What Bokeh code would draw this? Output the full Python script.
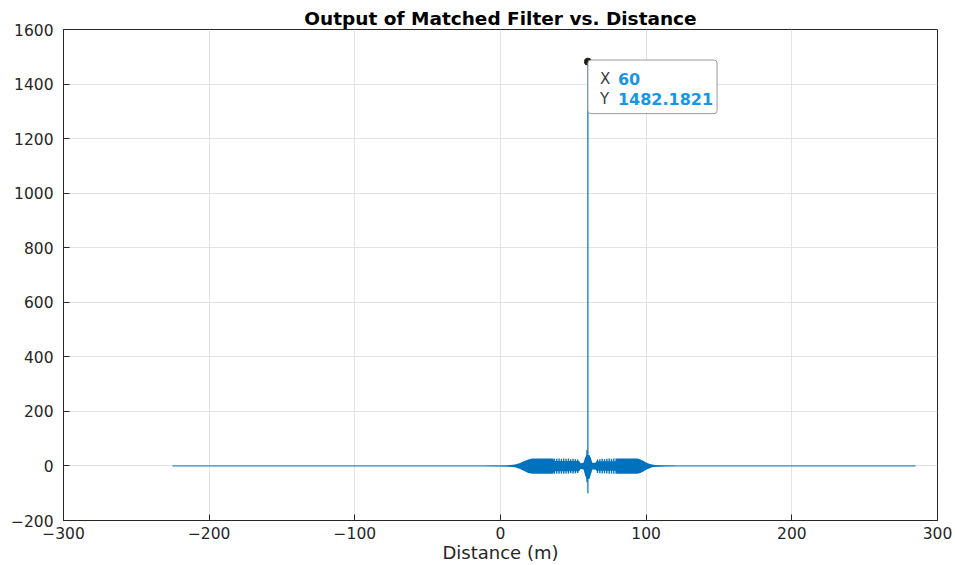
from bokeh.plotting import figure
from bokeh.models import FixedTicker, Label, ColumnDataSource
from bokeh.embed import file_html
from bokeh.resources import INLINE

# ---------------- data ----------------
signal_extent = [-225, 285]          # x range covered by the filter output (m)
baseline_level = [0, 0]

# envelope of the dense oscillation (m, amplitude)
env_x = [-10, 0, 5, 10, 13, 16, 19, 22, 25, 36, 37, 54, 55, 57, 58, 59, 61, 62, 63, 65, 66,
         79, 80, 94, 96, 98, 100, 102, 104, 107, 112, 120]
env_hi = [0.5, 1, 2, 5, 10, 17, 24, 27, 27, 27, 18, 18, 10, 12, 30, 40, 40, 30, 12, 12, 17,
          17, 27, 27, 24, 19, 13, 8, 5, 3, 1.5, 0.5]
env_lo = [-0.5, -1, -2, -5, -10, -18, -26, -29, -29, -29, -19, -19, -11, -13, -32, -48, -48, -32, -13, -13, -18,
          -18, -29, -29, -26, -20, -14, -9, -5, -3, -1.5, -0.5]

# individual spikes of the comb on both sides of the target
comb_x = [37.0, 38.6, 40.2, 41.8, 43.4, 45.0, 46.6, 48.2, 49.8, 51.4, 53.0,
          66.6, 68.2, 69.8, 71.4, 73.0, 74.6, 76.2, 77.8, 79.4]
comb_hi = [27, 26, 27, 26, 27, 26, 27, 25, 26, 25, 24,
           24, 25, 26, 25, 26, 27, 26, 27, 27]
comb_lo = [-29, -28, -29, -28, -29, -28, -28, -27, -28, -27, -26,
           -26, -27, -28, -27, -28, -29, -28, -29, -29]

# main peak
peak_x = 60
peak_y = 1482.1821
bump_y = 58
dip_y = -100

x_ticks = [-300, -200, -100, 0, 100, 200, 300]
y_ticks = [-200, 0, 200, 400, 600, 800, 1000, 1200, 1400, 1600]

# ---------------- styling ----------------
LINE = "#0072BD"
AX = "#262626"
TIP = "#1796E6"
FONT = "DejaVu Sans"

p = figure(width=955, height=565, x_range=(-300, 300), y_range=(-200, 1600),
           output_backend="svg", toolbar_location=None,
           min_border_left=63, min_border_right=18, min_border_top=29, min_border_bottom=45)

p.title.text = "Output of Matched Filter vs. Distance"
p.title.align = "center"
p.title.text_font = FONT
p.title.text_font_size = "18.5px"
p.title.text_font_style = "bold"
p.title.text_color = "#000000"
p.title.offset = 0
p.title.standoff = 1

p.outline_line_color = AX
p.outline_line_width = 1
p.background_fill_color = "white"
p.border_fill_color = "white"

for ax in (p.xaxis[0], p.yaxis[0]):
    ax.major_label_text_font = FONT
    ax.major_label_text_font_size = "15.5px"
    ax.major_label_text_color = AX
    ax.axis_line_color = AX
    ax.major_tick_in = 6
    ax.major_tick_out = 0
    ax.major_tick_line_color = AX
    ax.minor_tick_line_color = None

p.xaxis.ticker = FixedTicker(ticks=x_ticks)
p.yaxis.ticker = FixedTicker(ticks=y_ticks)
p.yaxis.major_label_standoff = 10
p.xaxis.major_label_standoff = 6
p.xaxis.axis_label = "Distance (m)"
p.xaxis.axis_label_text_font = FONT
p.xaxis.axis_label_text_font_size = "18px"
p.xaxis.axis_label_text_font_style = "normal"
p.xaxis.axis_label_text_color = AX
p.xaxis.axis_label_standoff = 0

p.xgrid.ticker = FixedTicker(ticks=x_ticks)
p.ygrid.ticker = FixedTicker(ticks=y_ticks)
p.grid.grid_line_color = "#e3e3e3"
p.grid.grid_line_width = 1

# ---------------- signal ----------------
p.line(signal_extent, baseline_level, line_color=LINE, line_width=1)

env = ColumnDataSource(dict(x=env_x, hi=env_hi, lo=env_lo))
p.varea(x="x", y1="lo", y2="hi", source=env, fill_color=LINE, fill_alpha=1)

comb = ColumnDataSource(dict(x=comb_x, hi=comb_hi, lo=comb_lo))
p.segment(x0="x", y0="lo", x1="x", y1="hi", source=comb, line_color=LINE, line_width=1.4)

p.segment(x0=[peak_x - 0.6], y0=[-60], x1=[peak_x - 0.6], y1=[bump_y], line_color=LINE, line_width=1.4)
p.segment(x0=[peak_x], y0=[dip_y], x1=[peak_x], y1=[peak_y], line_color=LINE, line_width=1.2)

# ---------------- data tip ----------------
p.scatter([peak_x], [peak_y], size=7, marker="circle", fill_color="#1f1f1a", line_color="#1f1f1a")

box = Label(x=peak_x, y=peak_y, x_offset=0, y_offset=-52,
            text="Y\nY", text_font=FONT, text_font_size="15px",
            text_color="white", text_line_height=1.2,
            background_fill_color="white", background_fill_alpha=1,
            border_line_color="#9a9a9a", border_line_width=1,
            padding=(1, 119, 5, 9), border_radius=3)
p.add_layout(box)

rows = [("X", str(peak_x), -17), ("Y", f"{peak_y:.4f}", -37)]
for k, v, dy in rows:
    p.add_layout(Label(x=peak_x, y=peak_y, x_offset=12, y_offset=dy, text=k,
                       text_font=FONT, text_font_size="15px", text_color="#3a3a3a",
                       text_baseline="middle"))
    p.add_layout(Label(x=peak_x, y=peak_y, x_offset=30, y_offset=dy, text=v,
                       text_font=FONT, text_font_size="16px", text_font_style="bold",
                       text_color=TIP, text_baseline="middle"))

open("out.html", "w").write(file_html(p, INLINE))
